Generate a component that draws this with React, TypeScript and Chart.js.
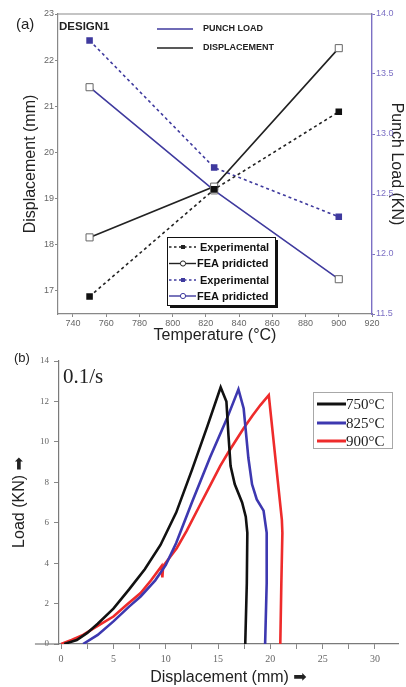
import React, { useEffect, useRef } from "react";
import { Chart, registerables } from "chart.js";

Chart.register(...registerables);

// ---------- Panel (a) data ----------
const temperatures = [750, 825, 900];
const dispExperimental = [16.88, 19.2, 20.88];
const dispFEA = [18.16, 19.26, 22.26];
const loadExperimental = [13.78, 12.72, 12.31];
const loadFEA = [13.39, 12.53, 11.79];
const tempTicks = [740, 760, 780, 800, 820, 840, 860, 880, 900, 920];
const dispTicks = [17, 18, 19, 20, 21, 22, 23];
const punchTicks = [11.5, 12.0, 12.5, 13.0, 13.5, 14.0];

// ---------- Panel (b) data ----------
const curve750X = [0.3, 1.5, 2.5, 3.5, 5.0, 6.5, 8.0, 9.5, 11.0, 12.5, 14.0, 15.25, 15.8, 16.0, 16.2, 16.6, 17.3, 17.65, 17.8, 17.75, 17.6];
const curve750Y = [0, 0.2, 0.55, 1.0, 1.75, 2.7, 3.7, 4.9, 6.5, 8.6, 10.8, 12.7, 12.0, 10.3, 8.8, 7.9, 7.0, 6.3, 5.5, 3.0, 0];
const curve825X = [2.1, 3.5, 5.0, 6.5, 7.6, 9.0, 10.0, 11.0, 12.5, 14.25, 15.85, 16.95, 17.45, 17.9, 18.25, 18.7, 19.35, 19.65, 19.65, 19.5];
const curve825Y = [0, 0.45, 1.12, 1.85, 2.35, 3.15, 3.9, 5.0, 7.0, 9.25, 11.15, 12.6, 11.65, 9.2, 7.9, 7.15, 6.6, 5.5, 3.0, 0];
const curve900X = [0, 1.0, 2.1, 3.5, 5.0, 6.3, 7.6, 8.6, 9.6, 9.68, 9.75, 11.05, 12.0, 13.3, 14.25, 15.2, 16.0, 17.45, 18.3, 19.05, 19.85, 21.1, 21.15, 21.05, 20.95];
const curve900Y = [0, 0.2, 0.45, 0.9, 1.36, 1.95, 2.52, 3.15, 3.85, 3.3, 3.85, 4.74, 5.6, 6.9, 7.85, 8.8, 9.5, 10.67, 11.3, 11.82, 12.31, 6.14, 5.5, 3.0, 0];
const displacementTicks = [0, 2.5, 5, 7.5, 10, 12.5, 15, 17.5, 20, 22.5, 25, 27.5, 30];
const loadTicks = [0, 2, 4, 6, 8, 10, 12, 14];
const tempLabels = ["750°C", "825°C", "900°C"];

const SANS = '"Liberation Sans", Arial, "DejaVu Sans", sans-serif';
const SERIF = '"Liberation Serif", "Times New Roman", serif';
const BLUE_A = "#3f3a9e";
const BLUE_AXIS = "#7c70c4";
const C750 = "#111111";
const C825 = "#3d38b0";
const C900 = "#ee2b2b";

const pts = (xs: number[], ys: number[]) => xs.map((x, i) => ({ x, y: ys[i] }));

const annotA = {
  id: "annotA",
  afterDraw(chart: any) {
    const { ctx, chartArea: ca } = chart;
    ctx.save();
    // top frame line
    ctx.strokeStyle = "#8a8a8a";
    ctx.lineWidth = 1.2;
    ctx.beginPath();
    ctx.moveTo(ca.left, ca.top);
    ctx.lineTo(ca.right, ca.top);
    ctx.stroke();

    ctx.fillStyle = "#222";
    ctx.textBaseline = "middle";
    ctx.textAlign = "left";
    ctx.font = `15px ${SANS}`;
    ctx.fillText("(a)", 16, 25);
    ctx.font = `bold 11.5px ${SANS}`;
    ctx.fillText("DESIGN1", ca.left + 1, 27);

    // top legend
    ctx.lineWidth = 1.6;
    ctx.strokeStyle = BLUE_A;
    ctx.beginPath();
    ctx.moveTo(157, 29);
    ctx.lineTo(193, 29);
    ctx.stroke();
    ctx.strokeStyle = "#222";
    ctx.beginPath();
    ctx.moveTo(157, 48);
    ctx.lineTo(193, 48);
    ctx.stroke();
    ctx.font = `bold 9px ${SANS}`;
    ctx.fillStyle = "#222";
    ctx.fillText("PUNCH LOAD", 203, 29);
    ctx.fillText("DISPLACEMENT", 203, 48);

    // bottom legend box
    const bx = 167, by = 237, bw = 108, bh = 68;
    ctx.fillStyle = "#111";
    ctx.fillRect(bx + 3, by + 3, bw, bh);
    ctx.fillStyle = "#fff";
    ctx.fillRect(bx, by, bw, bh);
    ctx.strokeStyle = "#111";
    ctx.lineWidth = 1;
    ctx.strokeRect(bx + 0.5, by + 0.5, bw, bh);

    const rows = [
      { y: 247, color: "#222", dash: true, text: "Experimental", tx: 200 },
      { y: 263.5, color: "#222", dash: false, text: "FEA pridicted", tx: 197 },
      { y: 280, color: BLUE_A, dash: true, text: "Experimental", tx: 200 },
      { y: 296, color: BLUE_A, dash: false, text: "FEA pridicted", tx: 197 },
    ];
    rows.forEach((r) => {
      ctx.strokeStyle = r.color;
      ctx.lineWidth = 1.4;
      ctx.setLineDash(r.dash ? [2.5, 2.5] : []);
      ctx.beginPath();
      ctx.moveTo(169, r.y);
      ctx.lineTo(196, r.y);
      ctx.stroke();
      ctx.setLineDash([]);
      if (r.dash) {
        ctx.fillStyle = r.color;
        ctx.fillRect(181, r.y - 2, 4, 4);
      } else {
        ctx.fillStyle = "#fff";
        ctx.beginPath();
        ctx.arc(183, r.y, 2.6, 0, Math.PI * 2);
        ctx.fill();
        ctx.lineWidth = 1;
        ctx.stroke();
      }
      ctx.fillStyle = "#111";
      ctx.font = `bold 11px ${SANS}`;
      ctx.fillText(r.text, r.tx, r.y + 0.5);
    });
    ctx.restore();
  },
};

const annotB = {
  id: "annotB",
  afterDraw(chart: any) {
    const { ctx, chartArea: ca } = chart;
    const xs = chart.scales.x;
    const ys = chart.scales.y;
    ctx.save();
    // x-axis line extension to the left of the y axis
    const unit = xs.getPixelForValue(1) - xs.getPixelForValue(0);
    const y0 = ys.getPixelForValue(0);
    ctx.strokeStyle = "#7a7a7a";
    ctx.lineWidth = 1.2;
    ctx.beginPath();
    ctx.moveTo(ca.left - 2.3 * unit, y0);
    ctx.lineTo(ca.left, y0);
    ctx.stroke();

    ctx.fillStyle = "#222";
    ctx.textBaseline = "middle";
    ctx.textAlign = "left";
    ctx.font = `13px ${SANS}`;
    ctx.fillText("(b)", 14, 13);
    ctx.font = `21px ${SERIF}`;
    ctx.fillText("0.1/s", 63, 32);

    // legend box
    const bx = 313, by = 47, bw = 79, bh = 56;
    ctx.fillStyle = "#fff";
    ctx.fillRect(bx, by, bw, bh);
    ctx.strokeStyle = "#a8a8a8";
    ctx.lineWidth = 1;
    ctx.strokeRect(bx + 0.5, by + 0.5, bw, bh);
    const colors = [C750, C825, C900];
    const rowsY = [59, 78, 96];
    tempLabels.forEach((lab, i) => {
      ctx.strokeStyle = colors[i];
      ctx.lineWidth = 3;
      ctx.beginPath();
      ctx.moveTo(317, rowsY[i]);
      ctx.lineTo(346, rowsY[i]);
      ctx.stroke();
      ctx.fillStyle = "#222";
      ctx.font = `15px ${SERIF}`;
      ctx.fillText(lab, 346, rowsY[i] + 1);
    });
    ctx.restore();
  },
};

export default function App() {
  const refA = useRef<HTMLCanvasElement>(null);
  const refB = useRef<HTMLCanvasElement>(null);

  useEffect(() => {
    const tickFont = { size: 9, family: SANS };
    const chartA = new Chart(refA.current as HTMLCanvasElement, {
      type: "scatter",
      data: {
        datasets: [
          {
            label: "Displacement Experimental",
            data: pts(temperatures, dispExperimental),
            yAxisID: "y",
            showLine: true,
            borderColor: "#222",
            borderWidth: 1.6,
            borderDash: [3, 3],
            pointStyle: "rect",
            pointRadius: 3.5,
            pointBackgroundColor: "#111",
            pointBorderColor: "#111",
          },
          {
            label: "Displacement FEA",
            data: pts(temperatures, dispFEA),
            yAxisID: "y",
            showLine: true,
            borderColor: "#222",
            borderWidth: 1.6,
            pointStyle: "rect",
            pointRadius: 5,
            pointBackgroundColor: "#fff",
            pointBorderColor: "#666",
            pointBorderWidth: 1,
          },
          {
            label: "Punch Experimental",
            data: pts(temperatures, loadExperimental),
            yAxisID: "y1",
            showLine: true,
            borderColor: BLUE_A,
            borderWidth: 1.6,
            borderDash: [3, 3],
            pointStyle: "rect",
            pointRadius: 3.5,
            pointBackgroundColor: BLUE_A,
            pointBorderColor: BLUE_A,
          },
          {
            label: "Punch FEA",
            data: pts(temperatures, loadFEA),
            yAxisID: "y1",
            showLine: true,
            borderColor: BLUE_A,
            borderWidth: 1.6,
            pointStyle: "rect",
            pointRadius: 5,
            pointBackgroundColor: "#fff",
            pointBorderColor: "#666",
            pointBorderWidth: 1,
          },
        ],
      },
      options: {
        animation: false,
        responsive: false,
        layout: { padding: { top: 14, left: 0, right: 0, bottom: 0 } },
        plugins: { legend: { display: false }, tooltip: { enabled: false } },
        scales: {
          x: {
            type: "linear",
            min: 731,
            max: 920,
            afterBuildTicks: (s: any) => {
              s.ticks = tempTicks.map((v) => ({ value: v }));
            },
            afterFit: (s: any) => {
              s.height = 31;
            },
            ticks: { font: tickFont, color: "#666", padding: 1, maxRotation: 0 },
            grid: { drawOnChartArea: false, tickLength: 3, color: "#888" },
            border: { color: "#888", width: 1.2 },
            title: {
              display: true,
              text: "Temperature (°C)",
              font: { size: 16, family: SANS },
              color: "#222",
              padding: { top: 0, bottom: 0 },
            },
          },
          y: {
            type: "linear",
            position: "left",
            min: 16.5,
            max: 23,
            afterBuildTicks: (s: any) => {
              s.ticks = dispTicks.map((v) => ({ value: v }));
            },
            afterFit: (s: any) => {
              s.width = 58;
            },
            ticks: { font: tickFont, color: "#666", padding: 1 },
            grid: { drawOnChartArea: false, tickLength: 3, color: "#888" },
            border: { color: "#888", width: 1.2 },
            title: {
              display: true,
              text: "Displacement (mm)",
              font: { size: 16, family: SANS },
              color: "#222",
              padding: { top: 21, bottom: 0 },
            },
          },
          y1: {
            type: "linear",
            position: "right",
            min: 11.5,
            max: 14,
            afterBuildTicks: (s: any) => {
              s.ticks = punchTicks.map((v) => ({ value: v }));
            },
            afterFit: (s: any) => {
              s.width = 34;
            },
            ticks: {
              font: tickFont,
              color: BLUE_AXIS,
              padding: 1,
              callback: (v: any) => Number(v).toFixed(1),
            },
            grid: { drawOnChartArea: false, tickLength: 3, color: BLUE_AXIS },
            border: { color: BLUE_AXIS, width: 1.4 },
            title: {
              display: true,
              text: "Punch Load (KN)",
              font: { size: 16, family: SANS },
              color: "#222",
              padding: { top: 0, bottom: 0 },
            },
          },
        },
      },
      plugins: [annotA],
    } as any);

    const lineDs = (label: string, xs: number[], ys: number[], color: string) => ({
      label,
      data: pts(xs, ys),
      showLine: true,
      borderColor: color,
      borderWidth: 2.6,
      pointRadius: 0,
      tension: 0,
      fill: false,
    });

    const chartB = new Chart(refB.current as HTMLCanvasElement, {
      type: "scatter",
      data: {
        datasets: [
          lineDs(tempLabels[0], curve750X, curve750Y, C750),
          lineDs(tempLabels[1], curve825X, curve825Y, C825),
          lineDs(tempLabels[2], curve900X, curve900Y, C900),
        ],
      },
      options: {
        animation: false,
        responsive: false,
        layout: { padding: { top: 16, left: 0, right: 8, bottom: 0 } },
        plugins: { legend: { display: false }, tooltip: { enabled: false } },
        scales: {
          x: {
            type: "linear",
            min: -0.2,
            max: 32.2,
            afterBuildTicks: (s: any) => {
              s.ticks = displacementTicks.map((v) => ({ value: v }));
            },
            afterFit: (s: any) => {
              s.height = 43;
            },
            ticks: {
              font: { size: 10, family: SERIF },
              color: "#666",
              padding: 4,
              maxRotation: 0,
              autoSkip: false,
              callback: (v: any) => (Number(v) % 5 === 0 ? String(v) : ""),
            },
            grid: { drawOnChartArea: false, tickLength: 5, color: "#888" },
            border: { color: "#7a7a7a", width: 1.2 },
            title: {
              display: true,
              text: "Displacement (mm) ➡",
              font: { size: 16, family: SANS },
              color: "#222",
              padding: { top: 0, bottom: 0 },
            },
          },
          y: {
            type: "linear",
            min: 0,
            max: 14,
            afterBuildTicks: (s: any) => {
              s.ticks = loadTicks.map((v) => ({ value: v }));
            },
            afterFit: (s: any) => {
              s.width = 59;
            },
            ticks: { font: { size: 9, family: SERIF }, color: "#666", padding: 5 },
            grid: { drawOnChartArea: false, tickLength: 5, color: "#888" },
            border: { color: "#7a7a7a", width: 1.2 },
            title: {
              display: true,
              text: "Load (KN) ➡",
              font: { size: 16, family: SANS },
              color: "#222",
              padding: { top: 10, bottom: 0 },
            },
          },
        },
      },
      plugins: [annotB],
    } as any);

    return () => {
      chartA.destroy();
      chartB.destroy();
    };
  }, []);

  return (
    <div style={{ position: "absolute", left: 0, top: 0, width: 406, height: 687, background: "#fff" }}>
      <canvas ref={refA} width={406} height={345} style={{ position: "absolute", left: 0, top: 0, width: 406, height: 345 }} />
      <canvas ref={refB} width={406} height={342} style={{ position: "absolute", left: 0, top: 345, width: 406, height: 342 }} />
    </div>
  );
}
